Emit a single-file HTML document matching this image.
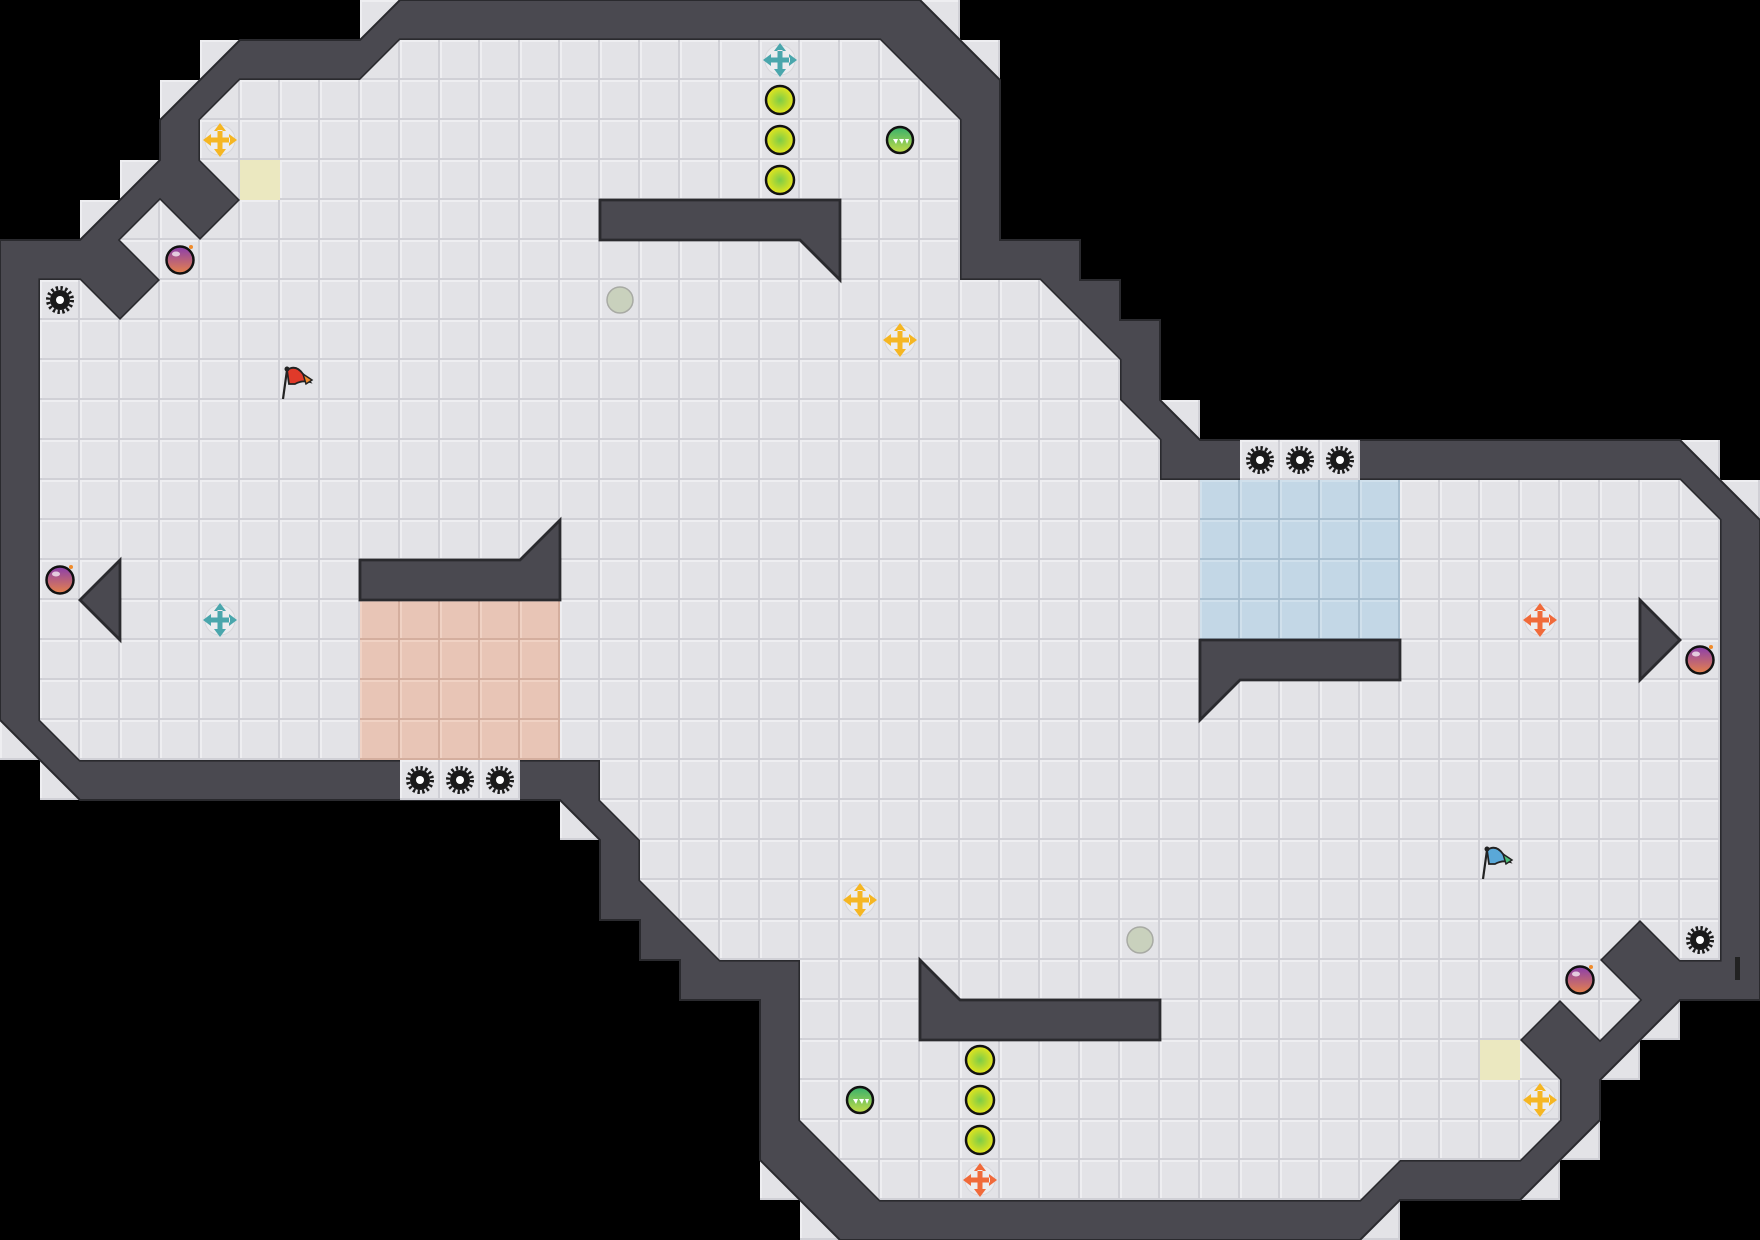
<!DOCTYPE html>
<html><head><meta charset="utf-8"><style>html,body{margin:0;padding:0;background:#000;}svg{display:block}</style></head>
<body>
<svg xmlns="http://www.w3.org/2000/svg" width="1760" height="1240" viewBox="0 0 1760 1240">
<defs>
<pattern id="fl" patternUnits="userSpaceOnUse" width="1" height="1">
<rect width="1" height="1" fill="#e3e3e7"/><rect width="1" height="0.05" fill="#eeeef1"/><rect width="0.05" height="1" fill="#eeeef1"/>
<rect x="0.95" width="0.05" height="1" fill="#d0d0d6"/><rect y="0.95" width="1" height="0.05" fill="#d0d0d6"/></pattern>
<pattern id="pe" patternUnits="userSpaceOnUse" width="1" height="1">
<rect width="1" height="1" fill="#e8c5b6"/><rect width="1" height="0.05" fill="#f0d2c4"/><rect width="0.05" height="1" fill="#f0d2c4"/>
<rect x="0.95" width="0.05" height="1" fill="#d4ae9e"/><rect y="0.95" width="1" height="0.05" fill="#d4ae9e"/></pattern>
<pattern id="bl" patternUnits="userSpaceOnUse" width="1" height="1">
<rect width="1" height="1" fill="#c3d7e6"/><rect width="1" height="0.05" fill="#d0e0ec"/><rect width="0.05" height="1" fill="#d0e0ec"/>
<rect x="0.95" width="0.05" height="1" fill="#a9bfd0"/><rect y="0.95" width="1" height="0.05" fill="#a9bfd0"/></pattern>
<radialGradient id="gy" cx="0.5" cy="0.5" r="0.5"><stop offset="0" stop-color="#7ccc48"/><stop offset="1" stop-color="#e8e61c"/></radialGradient>
<linearGradient id="gg" x1="0" y1="0" x2="0" y2="1"><stop offset="0" stop-color="#36b06c"/><stop offset="1" stop-color="#c4dc48"/></linearGradient>
<linearGradient id="gb" x1="0" y1="0" x2="0" y2="1"><stop offset="0" stop-color="#8a3eae"/><stop offset="1" stop-color="#e6824a"/></linearGradient>
<g id="cross"><circle r="15" fill="#ececef" stroke="#d6d6da" stroke-width="1"/><path d="M-2.5,-10 h5 v7.5 h7.5 v5 h-7.5 v7.5 h-5 v-7.5 h-7.5 v-5 h7.5z M0,-17 l-6,8 h12z M0,17 l-6,-8 h12z M-17,0 l8,-6 v12z M17,0 l-8,-6 v12z"/></g>
<g id="gear"><circle r="10" fill="#1a1a1a"/><circle r="12" fill="none" stroke="#1a1a1a" stroke-width="4" stroke-dasharray="2.36 2.36"/><circle r="4" fill="#fff"/></g>
<g id="dot"><circle r="14" fill="url(#gy)" stroke="#111" stroke-width="2.5"/></g>
<g id="ball"><circle r="13" fill="url(#gg)" stroke="#111" stroke-width="2.5"/><path d="M-7,-1 l3,5 l2,-5z M-1,-1 l3,5 l2,-5z M5,-1 l2,5 l2,-5z" fill="#fff"/></g>
<g id="bomb"><circle r="13.5" fill="url(#gb)" stroke="#111" stroke-width="2.5"/><ellipse cx="-4" cy="-6" rx="4" ry="2.5" fill="#fff" opacity="0.7"/><circle cx="11" cy="-13" r="2" fill="#f08a2a"/></g>
<g id="gray"><circle r="13" fill="#c9d1bd" stroke="#a8aaa4" stroke-width="1.5"/></g>
</defs>
<rect width="1760" height="1240" fill="#000"/>
<g transform="scale(40)">
<g fill="url(#fl)">
<rect x="9" y="0" width="1" height="1"/><rect x="5" y="1" width="1" height="1"/><rect x="4" y="2" width="1" height="1"/>
<rect x="3" y="4" width="1" height="1"/><rect x="2" y="5" width="1" height="1"/><rect x="0" y="18" width="1" height="1"/>
<rect x="1" y="19" width="1" height="1"/><rect x="14" y="20" width="1" height="1"/><rect x="23" y="0" width="1" height="1"/>
<rect x="24" y="1" width="1" height="1"/><rect x="29" y="10" width="1" height="1"/><rect x="42" y="11" width="1" height="1"/>
<rect x="43" y="12" width="1" height="1"/><rect x="41" y="25" width="1" height="1"/><rect x="40" y="26" width="1" height="1"/>
<rect x="39" y="28" width="1" height="1"/><rect x="38" y="29" width="1" height="1"/><rect x="34" y="30" width="1" height="1"/>
<rect x="19" y="29" width="1" height="1"/><rect x="20" y="30" width="1" height="1"/>
</g>
<polygon fill="#4a4950" stroke="#2a2a2e" stroke-width="0.05" points="10,0 23,0 25,2 25,6 27,6 27,7 28,7 28,8 29,8 29,10 30,11 42,11 44,13 44,25 42,25 40,27 40,28 38,30 35,30 34,31 21,31 19,29 19,25 17,25 17,24 16,24 16,23 15,23 15,21 14,20 2,20 0,18 0,6 2,6 4,4 4,3 6,1 9,1"/>
<polygon fill="url(#fl)" stroke="#2a2a2e" stroke-width="0.08" points="10,1 22,1 24,3 24,7 26,7 28,9 28,10 29,11 29,12 42,12 43,13 43,24 42,24 41,23 40,24 41,25 40,26 39,25 38,26 39,27 39,28 38,29 35,29 34,30 22,30 20,28 20,24 18,24 16,22 16,21 15,20 15,19 2,19 1,18 1,7 2,7 3,8 4,7 3,6 4,5 5,6 6,5 5,4 5,3 6,2 9,2"/>
<polygon fill="url(#fl)" points="10,1 22,1 24,3 24,7 26,7 28,9 28,10 29,11 29,12 42,12 43,13 43,24 42,24 41,23 40,24 41,25 40,26 39,25 38,26 39,27 39,28 38,29 35,29 34,30 22,30 20,28 20,24 18,24 16,22 16,21 15,20 15,19 2,19 1,18 1,7 2,7 3,8 4,7 3,6 4,5 5,6 6,5 5,4 5,3 6,2 9,2"/>
<rect x="10" y="19" width="3" height="1" fill="url(#fl)"/>
<rect x="31" y="11" width="3" height="1" fill="url(#fl)"/>
<rect x="9" y="15" width="5" height="4" fill="url(#pe)"/>
<rect x="30" y="12" width="5" height="4" fill="url(#bl)"/>
<rect x="6" y="4" width="1" height="1" fill="#ebe8c0"/>
<rect x="37" y="26" width="1" height="1" fill="#ebe8c0"/>
<g fill="#4a4950" stroke="#2a2a2e" stroke-width="0.07">
<polygon points="15,5 21,5 21,7 20,6 15,6"/>
<polygon points="9,14 13,14 14,13 14,15 9,15"/>
<polygon points="2,15 3,14 3,16"/>
<polygon points="41,15 42,16 41,17"/>
<polygon points="30,16 35,16 35,17 31,17 30,18"/>
<polygon points="23,24 24,25 29,25 29,26 23,26"/>
</g>
</g>
<rect x="1735" y="957" width="5" height="23" fill="#222"/>
<use href="#gear" x="60" y="300"/><use href="#gear" x="420" y="780"/><use href="#gear" x="460" y="780"/><use href="#gear" x="500" y="780"/>
<use href="#gear" x="1260" y="460"/><use href="#gear" x="1300" y="460"/><use href="#gear" x="1340" y="460"/><use href="#gear" x="1700" y="940"/>
<use href="#cross" x="780" y="60" fill="#4aa6ac"/>
<use href="#cross" x="220" y="140" fill="#f5b623"/>
<use href="#cross" x="900" y="340" fill="#f5b623"/>
<use href="#cross" x="220" y="620" fill="#4aa6ac"/>
<use href="#cross" x="1540" y="620" fill="#f06a3a"/>
<use href="#cross" x="860" y="900" fill="#f5b623"/>
<use href="#cross" x="980" y="1180" fill="#f06a3a"/>
<use href="#cross" x="1540" y="1100" fill="#f5b623"/>
<use href="#dot" x="780" y="100"/><use href="#dot" x="780" y="140"/><use href="#dot" x="780" y="180"/>
<use href="#dot" x="980" y="1060"/><use href="#dot" x="980" y="1100"/><use href="#dot" x="980" y="1140"/>
<use href="#ball" x="900" y="140"/><use href="#ball" x="860" y="1100"/>
<use href="#bomb" x="180" y="260"/><use href="#bomb" x="60" y="580"/><use href="#bomb" x="1700" y="660"/><use href="#bomb" x="1580" y="980"/>
<use href="#gray" x="620" y="300"/><use href="#gray" x="1140" y="940"/>
<g transform="translate(300,380)">
<line x1="-17" y1="19" x2="-13" y2="-10" stroke="#222" stroke-width="2.2"/>
<path d="M-13,-10 Q-4,-16 3,-6 L10,2 Q2,0 -5,4 L-11,4 Z" fill="#e03a2a" stroke="#222" stroke-width="1.8"/>
<path d="M3,-6 L12,0 L6,4 Z" fill="#f08a2a" stroke="#222" stroke-width="1.5"/>
<circle cx="-13" cy="-11" r="2.5" fill="#222"/></g>
<g transform="translate(1500,860)">
<line x1="-17" y1="19" x2="-13" y2="-10" stroke="#222" stroke-width="2.2"/>
<path d="M-13,-10 Q-4,-16 3,-6 L10,2 Q2,0 -5,4 L-11,4 Z" fill="#5aa8d8" stroke="#222" stroke-width="1.8"/>
<path d="M3,-6 L12,0 L6,4 Z" fill="#4cc078" stroke="#222" stroke-width="1.5"/>
<circle cx="-13" cy="-11" r="2.5" fill="#222"/></g>
</svg>
</body></html>
